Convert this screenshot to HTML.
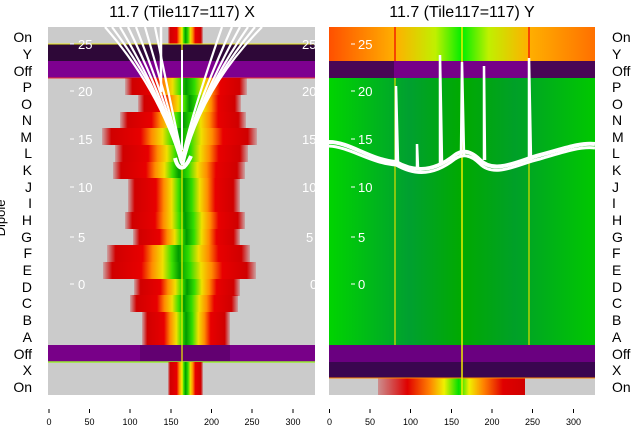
<!DOCTYPE html>
<html><head><style>
body{margin:0;background:#fff;}
svg{display:block;font-family:"Liberation Sans","DejaVu Sans",sans-serif;}
</style></head><body>
<svg width="640" height="440" viewBox="0 0 640 440">
<defs>
<linearGradient id="row" x1="0" x2="1">
<stop offset="0" stop-color="#d00000" stop-opacity="0.2"/>
<stop offset="0.06" stop-color="#d00000"/>
<stop offset="0.25" stop-color="#e80000"/>
<stop offset="0.32" stop-color="#ff8c00"/>
<stop offset="0.39" stop-color="#f0e000"/>
<stop offset="0.45" stop-color="#40e000"/>
<stop offset="0.5" stop-color="#009a00"/>
<stop offset="0.57" stop-color="#30dc00"/>
<stop offset="0.64" stop-color="#f0e000"/>
<stop offset="0.71" stop-color="#ff8c00"/>
<stop offset="0.78" stop-color="#e80000"/>
<stop offset="0.94" stop-color="#d00000"/>
<stop offset="1" stop-color="#d00000" stop-opacity="0.2"/>
</linearGradient>
<linearGradient id="topR" x1="0" x2="1">
<stop offset="0" stop-color="#ff5000"/>
<stop offset="0.25" stop-color="#ffb000"/>
<stop offset="0.4" stop-color="#c0f000"/>
<stop offset="0.5" stop-color="#00ee00"/>
<stop offset="0.6" stop-color="#c0f000"/>
<stop offset="0.75" stop-color="#ffb000"/>
<stop offset="1" stop-color="#ff7000"/>
</linearGradient>
<linearGradient id="botR" x1="0" x2="1">
<stop offset="0" stop-color="#d00000" stop-opacity="0.3"/>
<stop offset="0.2" stop-color="#e00000"/>
<stop offset="0.35" stop-color="#ff8000"/>
<stop offset="0.45" stop-color="#f0f000"/>
<stop offset="0.55" stop-color="#00e000"/>
<stop offset="0.62" stop-color="#f0f000"/>
<stop offset="0.72" stop-color="#ff8000"/>
<stop offset="0.85" stop-color="#e00000"/>
<stop offset="1" stop-color="#d00000"/>
</linearGradient>
<linearGradient id="greenR" x1="0" x2="1">
<stop offset="0" stop-color="#00d400"/>
<stop offset="0.3" stop-color="#00a030"/>
<stop offset="0.5" stop-color="#00aa00"/>
<stop offset="0.7" stop-color="#00a028"/>
<stop offset="1" stop-color="#00c800"/>
</linearGradient>
</defs>
<text x="182" y="17" font-size="16" text-anchor="middle">11.7 (Tile117=117) X</text>
<text x="462" y="17" font-size="16" text-anchor="middle">11.7 (Tile117=117) Y</text>
<!-- left panel -->
<rect x="48" y="27" width="267" height="368" fill="#cbcbcb"/>
<rect x="168" y="27" width="35" height="17" fill="url(#row)"/>
<rect x="48" y="44" width="267" height="17" fill="#2e0838"/>
<rect x="48" y="61" width="267" height="17" fill="#7e0090"/>
<line x1="48" y1="44" x2="315" y2="44" stroke="#ee2" stroke-width="1"/>
<line x1="48" y1="78" x2="315" y2="78" stroke="#e33" stroke-width="1"/>
<g>
<rect x="125" y="78" width="122" height="17" fill="url(#row)"/>
<rect x="138" y="95" width="103" height="17" fill="url(#row)"/>
<rect x="120" y="112" width="126" height="17" fill="url(#row)"/>
<rect x="102" y="128" width="155" height="17" fill="url(#row)"/>
<rect x="115" y="145" width="133" height="17" fill="url(#row)"/>
<rect x="113" y="162" width="132" height="17" fill="url(#row)"/>
<rect x="128" y="178" width="112" height="17" fill="url(#row)"/>
<rect x="128" y="195" width="112" height="17" fill="url(#row)"/>
<rect x="125" y="212" width="120" height="17" fill="url(#row)"/>
<rect x="133" y="229" width="107" height="17" fill="url(#row)"/>
<rect x="107" y="245" width="143" height="17" fill="url(#row)"/>
<rect x="103" y="262" width="153" height="17" fill="url(#row)"/>
<rect x="134" y="279" width="106" height="17" fill="url(#row)"/>
<rect x="130" y="295" width="108" height="17" fill="url(#row)"/>
<rect x="142" y="312" width="88" height="17" fill="url(#row)"/>
<rect x="142" y="329" width="88" height="16" fill="url(#row)"/>
</g>
<rect x="48" y="345" width="267" height="17" fill="#780088"/>
<rect x="140" y="345" width="90" height="17" fill="#580068" opacity="0.7"/>
<line x1="48" y1="362" x2="315" y2="362" stroke="#9e3" stroke-width="1.5"/>
<rect x="168" y="362" width="35" height="33" fill="url(#row)"/>
<line x1="182" y1="27" x2="182" y2="395" stroke="#ee0" stroke-width="1.2"/>
<g stroke="#fff" fill="none" stroke-width="2.2">
<path d="M105 27 Q160 90 182 165"/><path d="M112 27 Q163 95 182 164"/><path d="M120 27 Q166 105 181 163"/>
<path d="M128 27 Q168 110 181 162"/><path d="M136 27 Q170 115 182 160"/>
<path d="M145 27 Q172 120 182 158"/><path d="M155 27 Q175 125 182 155"/>
<path d="M262 27 Q200 90 183 165"/><path d="M255 27 Q199 95 183 164"/><path d="M248 27 Q198 100 183 162"/>
<path d="M240 27 Q195 110 183 160"/><path d="M232 27 Q193 115 183 157"/>
<path d="M222 27 Q190 120 183 155"/>
<path d="M175 158 Q178 170 184 167 Q188 163 191 156" stroke-width="4"/>
<line x1="161" y1="27" x2="161" y2="92" stroke-width="2.5"/>
<line x1="182" y1="50" x2="182" y2="150" stroke-width="2"/>
</g>
<g fill="#fff" font-size="13">
<text x="78" y="49">25</text><text x="78" y="96">20</text><text x="78" y="144">15</text>
<text x="78" y="192">10</text><text x="78" y="242">5</text><text x="78" y="289">0</text>
<text x="302" y="49">25</text><text x="302" y="96">20</text><text x="302" y="144">15</text>
<text x="302" y="192">10</text><text x="306" y="242">5</text><text x="310" y="289">0</text>
</g>
<g stroke="#fff" stroke-width="1">
<line x1="70" y1="44" x2="74" y2="44"/><line x1="70" y1="91" x2="74" y2="91"/><line x1="70" y1="139" x2="74" y2="139"/>
<line x1="70" y1="187" x2="74" y2="187"/><line x1="70" y1="237" x2="74" y2="237"/><line x1="70" y1="284" x2="74" y2="284"/>
</g>
<!-- right panel -->
<rect x="329" y="27" width="266" height="34" fill="url(#topR)"/>
<rect x="329" y="61" width="266" height="17" fill="#760088"/>
<rect x="329" y="61" width="65" height="17" fill="#40084a" opacity="0.8"/>
<rect x="530" y="61" width="65" height="17" fill="#40084a" opacity="0.8"/>
<rect x="329" y="78" width="266" height="267" fill="url(#greenR)"/>
<rect x="329" y="345" width="266" height="17" fill="#6a0080"/>
<rect x="329" y="362" width="266" height="16" fill="#3a0650"/>
<rect x="329" y="378" width="266" height="17" fill="#cbcbcb"/>
<rect x="378" y="378" width="147" height="17" fill="url(#botR)"/>
<line x1="329" y1="378" x2="595" y2="378" stroke="#f80" stroke-width="1"/>
<g stroke-width="1.2">
<line x1="395" y1="27" x2="395" y2="61" stroke="#e00"/><line x1="529" y1="27" x2="529" y2="61" stroke="#e00"/>
<line x1="395" y1="78" x2="395" y2="345" stroke="#dd0"/><line x1="462" y1="27" x2="462" y2="395" stroke="#ee0" stroke-width="1.5"/>
<line x1="529" y1="78" x2="529" y2="345" stroke="#dd0"/>
</g>
<g stroke="#fff" fill="none" stroke-width="4">
<path d="M329 142 C350 142 370 160 396 162 C410 170 430 175 455 155 C462 150 470 150 480 160 C495 175 520 160 540 155 C560 150 580 142 595 144"/>
<path d="M329 146 C350 147 370 163 396 165 C410 173 430 179 455 159 C462 154 470 154 480 164 C495 179 520 163 540 159 C560 153 580 146 595 148" stroke-width="3"/>
<g stroke-width="2.5">
<path d="M396 162 L396 86 L398 162"/>
<path d="M417 168 L417 144 L418 168"/>
<path d="M440 165 L440 55 L442 163"/>
<path d="M461 155 L462 62 L464 155"/>
<path d="M484 160 L484 66 L485 160"/>
<path d="M529 160 L529 58 L531 160"/>
</g>
</g>
<g fill="#fff" font-size="13">
<text x="358" y="49">25</text><text x="358" y="96">20</text><text x="358" y="144">15</text>
<text x="358" y="192">10</text><text x="358" y="242">5</text><text x="358" y="289">0</text>
</g>
<g stroke="#fff" stroke-width="1">
<line x1="351" y1="44" x2="355" y2="44"/><line x1="351" y1="91" x2="355" y2="91"/><line x1="351" y1="139" x2="355" y2="139"/>
<line x1="351" y1="187" x2="355" y2="187"/><line x1="351" y1="237" x2="355" y2="237"/><line x1="351" y1="284" x2="355" y2="284"/>
</g>
<!-- row labels -->
<g font-size="14" text-anchor="end">
<text x="32" y="42">On</text><text x="32" y="59">Y</text><text x="32" y="76">Off</text><text x="32" y="92">P</text>
<text x="32" y="109">O</text><text x="32" y="125">N</text><text x="32" y="142">M</text><text x="32" y="158">L</text>
<text x="32" y="175">K</text><text x="32" y="192">J</text><text x="32" y="208">I</text><text x="32" y="225">H</text>
<text x="32" y="242">G</text><text x="32" y="258">F</text><text x="32" y="275">E</text><text x="32" y="292">D</text>
<text x="32" y="308">C</text><text x="32" y="325">B</text><text x="32" y="342">A</text><text x="32" y="359">Off</text>
<text x="32" y="375">X</text><text x="32" y="392">On</text>
</g>
<g font-size="14">
<text x="612" y="42">On</text><text x="612" y="59">Y</text><text x="612" y="76">Off</text><text x="612" y="92">P</text>
<text x="612" y="109">O</text><text x="612" y="125">N</text><text x="612" y="142">M</text><text x="612" y="158">L</text>
<text x="612" y="175">K</text><text x="612" y="192">J</text><text x="612" y="208">I</text><text x="612" y="225">H</text>
<text x="612" y="242">G</text><text x="612" y="258">F</text><text x="612" y="275">E</text><text x="612" y="292">D</text>
<text x="612" y="308">C</text><text x="612" y="325">B</text><text x="612" y="342">A</text><text x="612" y="359">Off</text>
<text x="612" y="375">X</text><text x="612" y="392">On</text>
</g>
<text transform="translate(5,218) rotate(-90)" font-size="13" text-anchor="middle">Dipole</text>
<!-- x axes -->
<g stroke="#000" stroke-width="1">
<line x1="49" y1="409" x2="49" y2="413"/><line x1="89.5" y1="409" x2="89.5" y2="413"/><line x1="130" y1="409" x2="130" y2="413"/>
<line x1="171" y1="409" x2="171" y2="413"/><line x1="211.5" y1="409" x2="211.5" y2="413"/><line x1="252" y1="409" x2="252" y2="413"/><line x1="293" y1="409" x2="293" y2="413"/>
<line x1="329.5" y1="409" x2="329.5" y2="413"/><line x1="370" y1="409" x2="370" y2="413"/><line x1="410.5" y1="409" x2="410.5" y2="413"/>
<line x1="451.5" y1="409" x2="451.5" y2="413"/><line x1="492" y1="409" x2="492" y2="413"/><line x1="532.5" y1="409" x2="532.5" y2="413"/><line x1="573.5" y1="409" x2="573.5" y2="413"/>
</g>
<g font-size="9" text-anchor="middle">
<text x="49" y="425">0</text><text x="89.5" y="425">50</text><text x="130" y="425">100</text><text x="171" y="425">150</text>
<text x="211.5" y="425">200</text><text x="252" y="425">250</text><text x="293" y="425">300</text>
<text x="329.5" y="425">0</text><text x="370" y="425">50</text><text x="410.5" y="425">100</text><text x="451.5" y="425">150</text>
<text x="492" y="425">200</text><text x="532.5" y="425">250</text><text x="573.5" y="425">300</text>
</g>
</svg>
</body></html>
